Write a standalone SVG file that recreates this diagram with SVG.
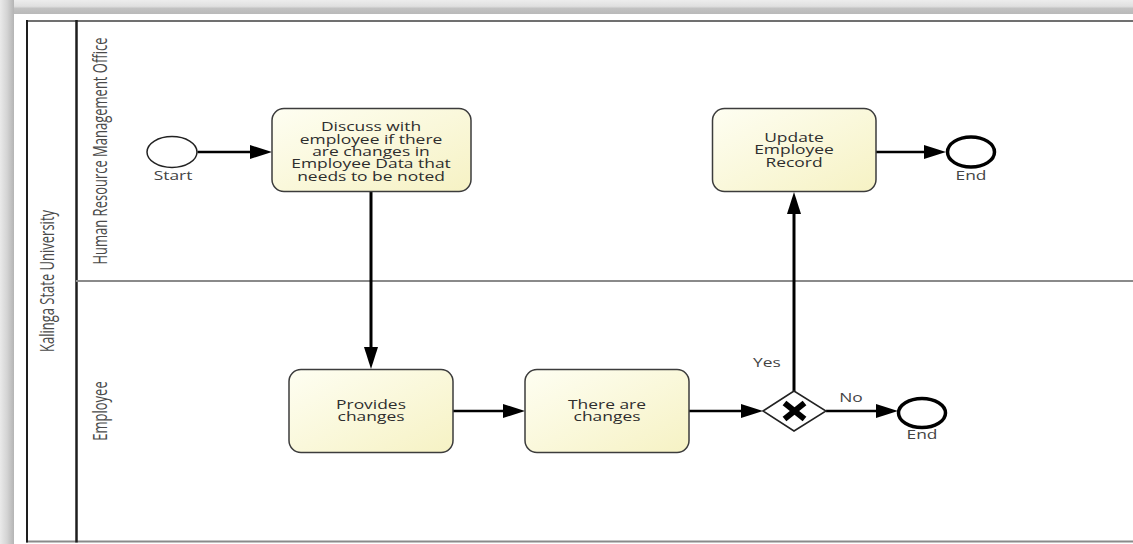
<svg xmlns="http://www.w3.org/2000/svg" width="1133" height="544" viewBox="0 0 1133 544">
  <defs>
    <linearGradient id="shadeTop" x1="0" y1="0" x2="0" y2="1">
      <stop offset="0" stop-color="#ededed"/>
      <stop offset="0.45" stop-color="#e0e0e0"/>
      <stop offset="0.6" stop-color="#c2c2c2"/>
      <stop offset="1" stop-color="#b9b9b9"/>
    </linearGradient>
    <linearGradient id="shadeLeft" x1="0" y1="0" x2="1" y2="0">
      <stop offset="0" stop-color="#eaeaea"/>
      <stop offset="0.5" stop-color="#d4d4d4"/>
      <stop offset="1" stop-color="#b4b4b4"/>
    </linearGradient>
    <linearGradient id="taskFill" x1="0" y1="0" x2="1" y2="1">
      <stop offset="0" stop-color="#fefef2"/>
      <stop offset="1" stop-color="#f6f2c4"/>
    </linearGradient>
    <marker id="arrow" viewBox="0 0 22 14" markerWidth="22" markerHeight="14" refX="10" refY="7" orient="auto" markerUnits="userSpaceOnUse">
      <path d="M0,0 L22,7 L0,14 z" fill="#000"/>
    </marker>
  </defs>
  <style>
    .task { fill: url(#taskFill); stroke: #3c3c3c; stroke-width: 1.5; }
    .label { font-family: "Open Sans", "Noto Sans", sans-serif; font-size: 13.5px; fill: #2e2e2e; text-anchor: middle; }
    .small { font-family: "Open Sans", "Noto Sans", sans-serif; font-size: 12px; fill: #444; text-anchor: middle; }
    .lane { font-family: "Open Sans", "Noto Sans", sans-serif; font-size: 13px; fill: #4a4a4a; text-anchor: middle; }
    .flow { stroke: #000; stroke-width: 2.5; fill: none; marker-end: url(#arrow); }
    .vflow { stroke: #000; stroke-width: 3; fill: none; marker-end: url(#arrow); }
    .start { fill: #fff; stroke: #222; stroke-width: 1.5; }
    .end { fill: #fff; stroke: #000; stroke-width: 3.5; }
  </style>

  <rect x="0" y="0" width="1133" height="544" fill="#fff"/>
  <!-- frame shading -->
  <rect x="0" y="0" width="1133" height="14" fill="url(#shadeTop)"/>
  <rect x="0" y="0" width="14" height="544" fill="url(#shadeLeft)"/>

  <!-- pool and lanes -->
  <g id="pool">
    <line x1="26" y1="21" x2="1133" y2="21" stroke="#707070" stroke-width="2"/>
    <line x1="26" y1="541.5" x2="1133" y2="541.5" stroke="#8a8a8a" stroke-width="2"/>
    <line x1="27" y1="20" x2="27" y2="542.5" stroke="#1e1e1e" stroke-width="2"/>
    <line x1="76.5" y1="20" x2="76.5" y2="542.5" stroke="#1e1e1e" stroke-width="2.5"/>
    <line x1="76" y1="281" x2="1133" y2="281" stroke="#8a8a8a" stroke-width="2"/>
    <text class="lane" transform="translate(54,281) rotate(-90) scale(1,1.5)">Kalinga State University</text>
  </g>
  <g id="lane-hr">
    <text class="lane" transform="translate(107,151) rotate(-90) scale(1,1.5)">Human Resource Management Office</text>
  </g>
  <g id="lane-employee">
    <text class="lane" transform="translate(107,411) rotate(-90) scale(1,1.5)">Employee</text>
  </g>

  <!-- sequence flows -->
  <g id="connectors">
    <line class="flow" x1="197.5" y1="152" x2="260" y2="152"/>
    <line class="vflow" x1="371" y1="192" x2="371" y2="357"/>
    <line class="flow" x1="453" y1="411" x2="513" y2="411"/>
    <line class="flow" x1="689" y1="411" x2="751" y2="411"/>
    <line class="flow" x1="826" y1="411" x2="886" y2="411"/>
    <line class="vflow" x1="794" y1="391" x2="794" y2="204"/>
    <line class="flow" x1="876" y1="152" x2="934" y2="152"/>
    <text class="small" transform="translate(767,367) scale(1.45,1)">Yes</text>
    <text class="small" transform="translate(851,402) scale(1.45,1)">No</text>
  </g>

  <g id="start">
    <ellipse class="start" cx="172" cy="152" rx="25" ry="15.5"/>
    <text class="small" transform="translate(173,180) scale(1.45,1)">Start</text>
  </g>

  <g id="task-discuss">
    <rect class="task" x="272" y="108.5" width="199" height="83" rx="12"/>
    <g transform="translate(371,0) scale(1.29,1)">
      <text class="label" x="0" y="131.5">Discuss with</text>
      <text class="label" x="0" y="143.8">employee if there</text>
      <text class="label" x="0" y="156.1">are changes in</text>
      <text class="label" x="0" y="168.4">Employee Data that</text>
      <text class="label" x="0" y="180.7">needs to be noted</text>
    </g>
  </g>

  <g id="task-update">
    <rect class="task" x="712.5" y="108.5" width="163.5" height="83" rx="12"/>
    <g transform="translate(794,0) scale(1.29,1)">
      <text class="label" x="0" y="142">Update</text>
      <text class="label" x="0" y="154.5">Employee</text>
      <text class="label" x="0" y="167">Record</text>
    </g>
  </g>

  <g id="end-hr">
    <ellipse class="end" cx="971" cy="152" rx="23.5" ry="15"/>
    <text class="small" transform="translate(971,180) scale(1.45,1)">End</text>
  </g>

  <g id="task-provides">
    <rect class="task" x="289" y="369.5" width="164" height="83" rx="12"/>
    <g transform="translate(371,0) scale(1.29,1)">
      <text class="label" x="0" y="409">Provides</text>
      <text class="label" x="0" y="421.5">changes</text>
    </g>
  </g>

  <g id="task-changes">
    <rect class="task" x="525" y="369.5" width="164" height="83" rx="12"/>
    <g transform="translate(607,0) scale(1.29,1)">
      <text class="label" x="0" y="409">There are</text>
      <text class="label" x="0" y="421.5">changes</text>
    </g>
  </g>

  <g id="gateway">
    <polygon points="763,411 794,391 826,411 794,431" fill="#fff" stroke="#222" stroke-width="1.5"/>
    <line x1="784.5" y1="403" x2="804.5" y2="419" stroke="#000" stroke-width="6"/>
    <line x1="804.5" y1="403" x2="784.5" y2="419" stroke="#000" stroke-width="6"/>
  </g>

  <g id="end-employee">
    <ellipse class="end" cx="922" cy="413" rx="23.5" ry="14.5"/>
    <text class="small" transform="translate(922,439) scale(1.45,1)">End</text>
  </g>
</svg>
